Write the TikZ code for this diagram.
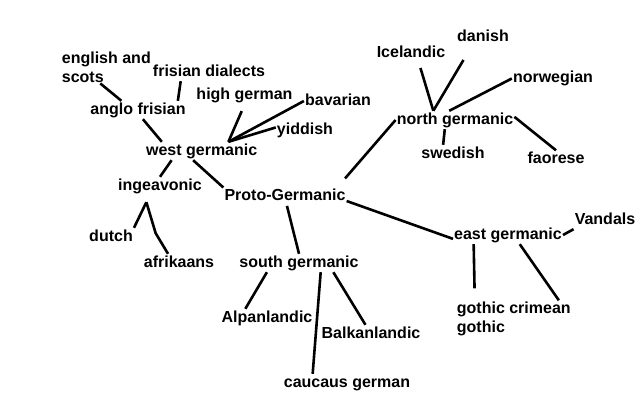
\documentclass[tikz,border=0pt]{standalone}
\usepackage{fontspec}
\setmainfont{Liberation Sans}
\usetikzlibrary{calc}

\begin{document}
\begin{tikzpicture}[x=1pt, y=-1pt,
    txt/.style={font={\bfseries\fontsize{16}{19}\selectfont}, inner sep=1pt},
    lang/.style={txt, anchor=base, text height=12pt, text depth=4pt},
    link/.style={line width=2.6pt}]
    \fill[white] (0,0) rectangle (640,418);

    % west branch
    \node[txt, align=left, anchor=north west] (engscots) at (60.7,50.3) {english and\\scots};
    \node[lang] (frisdial) at (209,76) {frisian dialects};
    \node[lang] (anglofris) at (138,114) {anglo frisian};
    \node[lang] (highg) at (244.5,99.5) {high german};
    \node[lang] (bavar) at (338,105) {bavarian};
    \node[lang] (yidd) at (305,134) {yiddish};
    \node[lang] (westg) at (201.7,155) {west germanic};
    \node[lang] (ingea) at (160,190) {ingeavonic};
    \node[lang] (dutch) at (111,241) {dutch};
    \node[lang] (afrik) at (179,267) {afrikaans};

    \node[lang] (proto) at (285,200.7) {Proto-Germanic};

    % south branch
    \node[lang] (southg) at (299,267) {south germanic};
    \node[lang] (alpan) at (267,322) {Alpanlandic};
    \node[lang] (balkan) at (371,338) {Balkanlandic};
    \node[lang] (caucg) at (347,387) {caucaus german};

    % east branch
    \node[lang] (eastg) at (508,239) {east germanic};
    \node[lang] (vandals) at (605,224) {Vandals};
    \node[txt, align=left, anchor=north west] (gothic) at (455.7,300.3) {gothic crimean\\gothic};

    % north branch
    \node[lang] (northg) at (455,124) {north germanic};
    \node[lang] (iceland) at (411,57) {Icelandic};
    \node[lang] (danish) at (483,41) {danish};
    \node[lang] (norweg) at (553,82.5) {norwegian};
    \node[lang] (swed) at (453,158) {swedish};
    \node[lang] (faor) at (556,163.5) {faorese};

    \draw[link] (engscots.250) -- (anglofris.151);
    \draw[link] (frisdial.198) -- (anglofris.13);
    \draw[link] (anglofris.-62) -- (westg.167);
    \draw[link, shorten <=7pt] (highg.south) -- (westg.19);
    \draw[link] (bavar.west) -- (westg.19);
    \draw[link] (yidd.175) -- (westg.19);
    \draw[link] (westg.197) -- (ingea.north);
    \draw[link] (westg.227) -- (proto.north west);
    \draw[link] ([yshift=-7pt]ingea.214) -- (dutch.north east);
    \draw[link] ([yshift=-7pt]ingea.214) -- ++(9.3,31) -- (afrik.140);

    \draw[link] (proto.-78) -- (southg.north);
    \draw[link] (proto.-4) -- (eastg.184);
    \draw[link, shorten <=12pt] (proto.10) -- (northg.west);

    \draw[link] (southg.196) -- (alpan.157);
    \draw[link] (southg.-23) -- (caucg.165);
    \draw[link] (southg.-15) -- (balkan.121);

    \draw[link] (eastg.east) -- (vandals.south west);
    \draw[link, shorten >=12pt] (eastg.195) -- (gothic.155);
    \draw[link] (eastg.-38) -- (gothic.22);

    \draw[link, shorten >=6pt] (northg.157) -- (iceland.-50);
    \draw[link, shorten >=16pt] (northg.157) -- (danish.219);
    \draw[link] (northg.122) -- (norweg.west);
    \draw[link] (northg.222) -- (swed.137);
    \draw[link] (northg.3) -- (faor.north);
\end{tikzpicture}
\end{document}
